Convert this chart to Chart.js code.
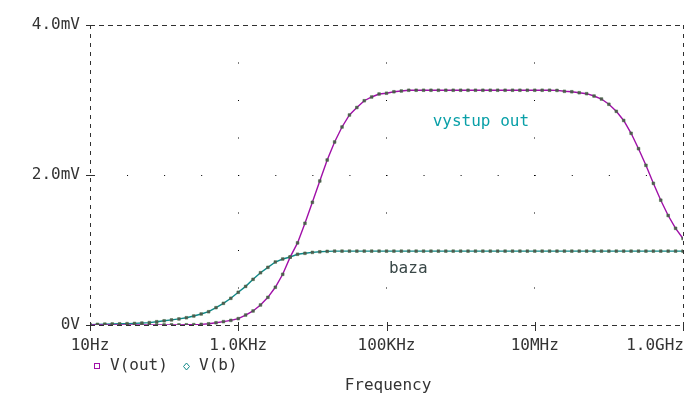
<!DOCTYPE html>
<html>
<head>
<meta charset="utf-8">
<script src="https://cdn.jsdelivr.net/npm/chart.js@4.4.1/dist/chart.umd.min.js"></script>
<style>
  body { margin: 0; background: #fff; }
  #wrap { width: 691px; height: 396px; }
</style>
</head>
<body>
<div id="wrap"><canvas id="acChart"></canvas></div>
<script>
// sweep: 10 Hz .. 1 GHz, 10 points per decade
const freqs = Array.from({ length: 81 }, (_, i) => Math.pow(10, 1 + i / 10));

// V(out) in mV
const vOut = [
  0, 0, 0, 0, 0, 0, 0, 0.001, 0.001, 0.001,
  0.001, 0.002, 0.002, 0.003, 0.005, 0.009, 0.016, 0.03, 0.045, 0.062,
  0.085, 0.133, 0.187, 0.267, 0.369, 0.503, 0.676, 0.905, 1.095, 1.356,
  1.636, 1.92, 2.2, 2.44, 2.64, 2.8, 2.9, 2.99, 3.04, 3.08,
  3.09, 3.11, 3.12, 3.13, 3.13, 3.13, 3.13, 3.13, 3.13, 3.13,
  3.13, 3.13, 3.13, 3.13, 3.13, 3.13, 3.13, 3.13, 3.13, 3.13,
  3.13, 3.13, 3.13, 3.128, 3.116, 3.11, 3.097, 3.084, 3.053, 3.013,
  2.943, 2.849, 2.727, 2.556, 2.351, 2.129, 1.889, 1.664, 1.46, 1.289,
  1.153
];

// V(b) in mV
const vB = [
  0.005, 0.009, 0.012, 0.014, 0.016, 0.018, 0.021, 0.026, 0.032, 0.044,
  0.056, 0.068, 0.081, 0.097, 0.12, 0.147, 0.177, 0.231, 0.289, 0.356,
  0.436, 0.515, 0.609, 0.697, 0.769, 0.84, 0.88, 0.907, 0.943, 0.956,
  0.968, 0.976, 0.982, 0.985, 0.985, 0.985, 0.985, 0.985, 0.985, 0.985,
  0.985, 0.985, 0.985, 0.985, 0.985, 0.985, 0.985, 0.985, 0.985, 0.985,
  0.985, 0.985, 0.985, 0.985, 0.985, 0.985, 0.985, 0.985, 0.985, 0.985,
  0.985, 0.985, 0.985, 0.985, 0.985, 0.985, 0.985, 0.985, 0.985, 0.985,
  0.985, 0.985, 0.985, 0.985, 0.985, 0.985, 0.985, 0.985, 0.985, 0.985,
  0.985
];

const xTickValues = [10, 1e3, 1e5, 1e7, 1e9];
const xTickLabels = ['10Hz', '1.0KHz', '100KHz', '10MHz', '1.0GHz'];
const yTickValues = [0, 2, 4];
const yTickLabels = ['0V', '2.0mV', '4.0mV'];
const seriesNames = ['V(out)', 'V(b)'];

const FONT = '16px "DejaVu Sans Mono", monospace';
const TEXT = '#333333';
const FRAME = '#303030';
const OUT_COLOR = '#a010a8';
const B_COLOR = '#108888';

// PSpice style frame, tick marks, x labels, legend and trace labels
const probePlugin = {
    id: 'probe',
    afterDraw(chart) {
        const { ctx, chartArea: a, scales: { x, y } } = chart;
        ctx.save();

        // dashed frame
        ctx.strokeStyle = FRAME;
        ctx.lineWidth = 1;
        ctx.setLineDash([5, 4]);
        ctx.beginPath();
        ctx.moveTo(a.left, a.top + 0.5); ctx.lineTo(a.right + 1, a.top + 0.5);
        ctx.moveTo(a.left, a.bottom + 0.5); ctx.lineTo(a.right + 1, a.bottom + 0.5);
        ctx.stroke();
        ctx.setLineDash([4, 5]);
        ctx.beginPath();
        ctx.moveTo(a.left + 0.5, a.top); ctx.lineTo(a.left + 0.5, a.bottom);
        ctx.moveTo(a.right + 0.5, a.top); ctx.lineTo(a.right + 0.5, a.bottom);
        ctx.stroke();
        ctx.setLineDash([]);

        // tick marks
        ctx.beginPath();
        yTickValues.forEach(v => {
            const py = Math.round(y.getPixelForValue(v)) + 0.5;
            ctx.moveTo(a.left - 4, py); ctx.lineTo(a.left + 5, py);
        });
        xTickValues.forEach(v => {
            const px = Math.round(x.getPixelForValue(v)) + 0.5;
            ctx.moveTo(px, a.bottom - 3); ctx.lineTo(px, a.bottom + 6);
        });
        ctx.stroke();

        // x tick labels (last one is right aligned, like the probe window)
        ctx.font = FONT;
        ctx.fillStyle = TEXT;
        ctx.textBaseline = 'middle';
        xTickValues.forEach((v, i) => {
            const last = i === xTickValues.length - 1;
            ctx.textAlign = last ? 'right' : 'center';
            ctx.fillText(xTickLabels[i], last ? a.right + 1 : x.getPixelForValue(v), 346);
        });

        // legend
        ctx.textAlign = 'left';
        ctx.strokeStyle = OUT_COLOR;
        ctx.strokeRect(94.5, 363.5, 5, 5);
        ctx.fillText(seriesNames[0], 110, 366);
        ctx.strokeStyle = B_COLOR;
        ctx.beginPath();
        ctx.moveTo(186.5, 363); ctx.lineTo(189.5, 366.5); ctx.lineTo(186.5, 370); ctx.lineTo(183.5, 366.5);
        ctx.closePath();
        ctx.stroke();
        ctx.fillText(seriesNames[1], 199, 366);

        // axis title
        ctx.textAlign = 'center';
        ctx.fillText('Frequency', 388, 386);

        // trace labels
        ctx.textBaseline = 'alphabetic';
        ctx.textAlign = 'left';
        ctx.fillStyle = '#0aa0a8';
        ctx.fillText('vystup out', x.getPixelForValue(4.2e5), y.getPixelForValue(2.65));
        ctx.fillStyle = '#3a4848';
        ctx.fillText('baza', x.getPixelForValue(1.08e5), y.getPixelForValue(0.69));

        ctx.restore();
    }
};

const ctxChart = document.getElementById('acChart');
new Chart(ctxChart, {
    type: 'line',
    data: {
        datasets: [
            {
                label: seriesNames[0],
                data: freqs.map((f, i) => ({ x: f, y: vOut[i] })),
                borderColor: OUT_COLOR,
                borderWidth: 1.4,
                pointStyle: 'rect',
                pointRadius: 1.9,
                pointBackgroundColor: '#555555',
                pointBorderColor: '#3d6a3d',
                pointBorderWidth: 0.5,
                tension: 0
            },
            {
                label: seriesNames[1],
                data: freqs.map((f, i) => ({ x: f, y: vB[i] })),
                borderColor: B_COLOR,
                borderWidth: 1.4,
                pointStyle: 'rect',
                pointRadius: 1.9,
                pointBackgroundColor: '#555555',
                pointBorderColor: '#3d6a3d',
                pointBorderWidth: 0.5,
                tension: 0
            }
        ]
    },
    options: {
        responsive: true,
        maintainAspectRatio: false,
        animation: false,
        layout: { padding: { top: 25, right: 8, left: 0, bottom: 0 } },
        plugins: {
            legend: { display: false },
            tooltip: { enabled: false }
        },
        scales: {
            x: {
                type: 'logarithmic',
                min: 10,
                max: 1e9,
                afterBuildTicks: scale => { scale.ticks = xTickValues.map(v => ({ value: v })); },
                afterFit: scale => { scale.height = 71; scale.paddingLeft = 0; scale.paddingRight = 0; },
                ticks: { display: false },
                grid: {
                    drawTicks: false,
                    lineWidth: 1,
                    color: c => (c.tick && (c.tick.value === 10 || c.tick.value === 1e9)) ? 'rgba(0,0,0,0)' : '#000'
                },
                border: { display: false, dash: [1, 36.5] }
            },
            y: {
                type: 'linear',
                min: 0,
                max: 4,
                afterBuildTicks: scale => { scale.ticks = yTickValues.map(v => ({ value: v })); },
                afterFit: scale => { scale.width = 90; scale.paddingTop = 0; scale.paddingBottom = 0; },
                ticks: {
                    padding: 10,
                    font: { family: '"DejaVu Sans Mono", monospace', size: 16 },
                    color: TEXT,
                    callback: v => yTickLabels[yTickValues.indexOf(v)]
                },
                grid: {
                    drawTicks: false,
                    lineWidth: 1,
                    color: c => (c.tick && (c.tick.value === 0 || c.tick.value === 4)) ? 'rgba(0,0,0,0)' : '#000'
                },
                border: { display: false, dash: [1, 36.06] }
            }
        }
    },
    plugins: [probePlugin]
});
</script>
</body>
</html>
